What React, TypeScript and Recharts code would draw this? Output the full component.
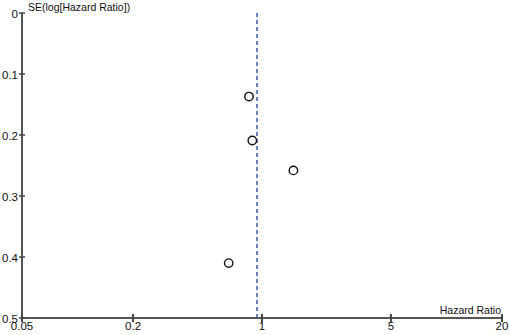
import React from "react";
import {
  ScatterChart,
  Scatter,
  XAxis,
  YAxis,
  ReferenceLine,
} from "recharts";

// study estimates (hazard ratio vs standard error of log HR)
const hazardRatios = [0.85, 0.886, 1.48, 0.66];
const standardErrors = [0.137, 0.209, 0.258, 0.41];
const pooledHR = 0.94;

const xTicks = [0.05, 0.2, 1, 5, 20];
const yTicks = [0, 0.1, 0.2, 0.3, 0.4, 0.5];

const points = hazardRatios.map((hr, i) => ({ hr, se: standardErrors[i] }));

const FONT = "'Liberation Sans', Arial, sans-serif";
const AXIS_COLOR = "#555";

const XTick = (props: any) => {
  const { x, y, payload } = props;
  return (
    <g>
      <line x1={x} x2={x} y1={y - 4} y2={y + 4} stroke="#444" strokeWidth={2} />
      <text
        x={x}
        y={y + 12}
        textAnchor="middle"
        fontSize={11.5}
        fontFamily={FONT}
        fill="#111"
      >
        {payload.value}
      </text>
    </g>
  );
};

const YTick = (props: any) => {
  const { x, y, payload } = props;
  return (
    <g>
      <line x1={x - 3} x2={x + 3} y1={y} y2={y} stroke="#444" strokeWidth={1.5} />
      <text
        x={x - 4}
        y={y + 5}
        textAnchor="end"
        fontSize={11.5}
        fontFamily={FONT}
        fill="#111"
      >
        {payload.value}
      </text>
    </g>
  );
};

const OpenCircle = (props: any) => {
  const { cx, cy } = props;
  return <circle cx={cx} cy={cy} r={4.2} fill="#fff" stroke="#111" strokeWidth={1.4} />;
};

export default function App() {
  return (
    <div
      style={{
        position: "absolute",
        left: 0,
        top: 0,
        width: 510,
        height: 335,
        background: "#fff",
        fontFamily: FONT,
      }}
    >
      <ScatterChart
        width={510}
        height={335}
        margin={{ top: 13, right: 8, bottom: 0, left: 0 }}
      >
        <XAxis
          type="number"
          dataKey="hr"
          scale="log"
          domain={[0.05, 20]}
          ticks={xTicks}
          allowDataOverflow
          height={17}
          tickSize={0}
          tickMargin={0}
          tickLine={false}
          tick={<XTick />}
          axisLine={{ stroke: AXIS_COLOR, strokeWidth: 2 }}
        />
        <YAxis
          type="number"
          dataKey="se"
          domain={[0, 0.5]}
          ticks={yTicks}
          reversed
          width={22}
          tickSize={0}
          tickMargin={0}
          tickLine={false}
          tick={<YTick />}
          axisLine={{ stroke: AXIS_COLOR, strokeWidth: 2 }}
        />
        <ReferenceLine
          x={pooledHR}
          stroke="#3a57b0"
          strokeWidth={1.5}
          strokeDasharray="4 3"
        />
        <Scatter data={points} shape={<OpenCircle />} isAnimationActive={false} />
      </ScatterChart>
      <svg
        width={510}
        height={335}
        style={{ position: "absolute", left: 0, top: 0, pointerEvents: "none" }}
      >
        <text x={28} y={11} fontSize={10.5} fontFamily={FONT} fill="#111">
          SE(log[Hazard Ratio])
        </text>
        <text x={501} y={314} textAnchor="end" fontSize={10.5} fontFamily={FONT} fill="#111">
          Hazard Ratio
        </text>
      </svg>
    </div>
  );
}
